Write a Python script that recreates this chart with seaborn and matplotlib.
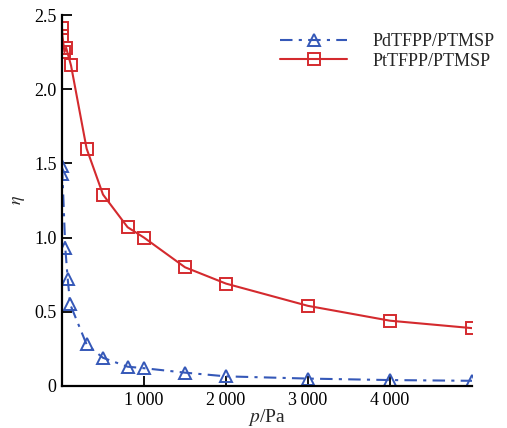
import matplotlib
matplotlib.use("Agg")
import matplotlib.pyplot as plt
import seaborn as sns
import pandas as pd
from matplotlib.ticker import FixedLocator, FuncFormatter

sns.set_theme(style="white")
plt.rcParams['font.family'] = ['Liberation Serif', 'DejaVu Serif']
plt.rcParams['mathtext.fontset'] = 'stix'

pd_x = [0, 5, 40, 70, 100, 300, 500, 800, 1000, 1500, 2000, 3000, 4000, 5000]
pd_y = [1.48, 1.43, 0.93, 0.72, 0.55, 0.28, 0.19, 0.13, 0.12, 0.09, 0.065, 0.05, 0.04, 0.035]
pt_x = [0, 5, 30, 50, 110, 300, 500, 800, 1000, 1500, 2000, 3000, 4000, 5000]
pt_y = [2.41, 2.36, 2.25, 2.28, 2.16, 1.60, 1.29, 1.07, 1.00, 0.80, 0.69, 0.54, 0.44, 0.39]
labels = ["PdTFPP/PTMSP", "PtTFPP/PTMSP"]
xticks = [1000, 2000, 3000, 4000]
yticks = [0, 0.5, 1.0, 1.5, 2.0, 2.5]

fig = plt.figure(figsize=(5.07, 4.28), dpi=100)
ax = fig.add_axes([62/507, 1-386/428, (472-62)/507, (386-15)/428])

blue = "#3558b8"
red = "#d42a2e"
df1 = pd.DataFrame({"x": pd_x, "y": pd_y})
df2 = pd.DataFrame({"x": pt_x, "y": pt_y})
sns.lineplot(data=df1, x="x", y="y", ax=ax, color=blue, linestyle=(0, (6, 3, 1.5, 3)),
             linewidth=1.5, marker="^", markersize=8, markerfacecolor="none",
             markeredgecolor=blue, markeredgewidth=1.4, label=labels[0], sort=False)
sns.lineplot(data=df2, x="x", y="y", ax=ax, color=red, linestyle="-",
             linewidth=1.5, marker="s", markersize=8, markerfacecolor="none",
             markeredgecolor=red, markeredgewidth=1.4, label=labels[1], sort=False)

ax.set_xlim(0, 5000)
ax.set_ylim(0, 2.5)
ax.xaxis.set_major_locator(FixedLocator(xticks))
ax.yaxis.set_major_locator(FixedLocator(yticks))
ax.xaxis.set_major_formatter(FuncFormatter(lambda v, p: f"{int(v):,}".replace(",", "\u2009")))
ax.yaxis.set_major_formatter(FuncFormatter(lambda v, p: "0" if v == 0 else f"{v:.1f}"))
ax.tick_params(direction="in", length=7, width=1.3, labelsize=13, colors="black",
               bottom=True, left=True, pad=4)
for s in ["top", "right"]:
    ax.spines[s].set_visible(False)
for s in ["left", "bottom"]:
    ax.spines[s].set_color("black")
    ax.spines[s].set_linewidth(1.6)

ax.set_xlabel(r"$p$/Pa", fontsize=14, labelpad=-1)
ax.set_ylabel(r"$\eta$", fontsize=13, labelpad=5)

leg = ax.legend(loc="upper right", bbox_to_anchor=(1.095, 0.995), frameon=False, fontsize=13,
                handlelength=3.7, handletextpad=1.4, labelspacing=0.15)
fig.savefig("out.png", dpi=100)
